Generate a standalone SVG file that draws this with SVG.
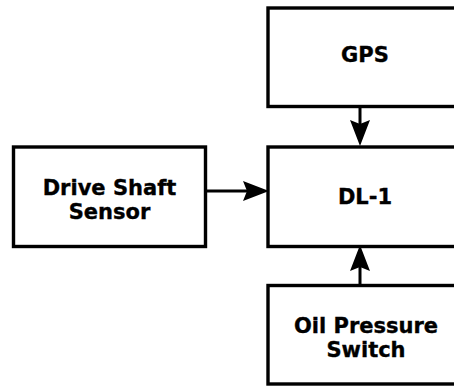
<svg xmlns="http://www.w3.org/2000/svg" width="454" height="386" viewBox="0 0 454 386">
<style>
.box{fill:#fff;stroke:#000;stroke-width:3.4}
.lbl{font-family:"DejaVu Sans",sans-serif;font-weight:bold;font-size:21px;fill:#000;stroke:#000;stroke-width:0.35;text-anchor:middle}
.conn{stroke:#000;stroke-width:3;fill:none;marker-end:url(#ah)}
</style>
<defs>
<marker id="ah" viewBox="0 0 26 20" refX="6" refY="10" markerWidth="26" markerHeight="20" markerUnits="userSpaceOnUse" orient="auto">
<path d="M0,0 L26,10 L0,20 L4,10 Z" fill="#000"/>
</marker>
</defs>
<rect width="454" height="386" fill="#fff"/>
<g id="gps">
<rect class="box" x="268" y="8" width="200" height="98.5"/>
<text class="lbl" x="365" y="62">GPS</text>
</g>
<g id="dl1">
<rect class="box" x="268" y="147" width="200" height="99.5"/>
<text class="lbl" x="365" y="204">DL-1</text>
</g>
<g id="drive-shaft-sensor">
<rect class="box" x="13.5" y="147" width="192" height="99.5"/>
<text class="lbl" x="109.5" y="195">Drive Shaft</text>
<text class="lbl" x="109.5" y="219">Sensor</text>
</g>
<g id="oil-pressure-switch">
<rect class="box" x="268" y="285.5" width="200" height="98.5"/>
<text class="lbl" x="366" y="333">Oil Pressure</text>
<text class="lbl" x="366" y="357">Switch</text>
</g>
<g id="connectors">
<path class="conn" d="M360,108 L360,126"/>
<path class="conn" d="M207,191 L249,191"/>
<path class="conn" d="M360,284 L360,265"/>
</g>
</svg>
